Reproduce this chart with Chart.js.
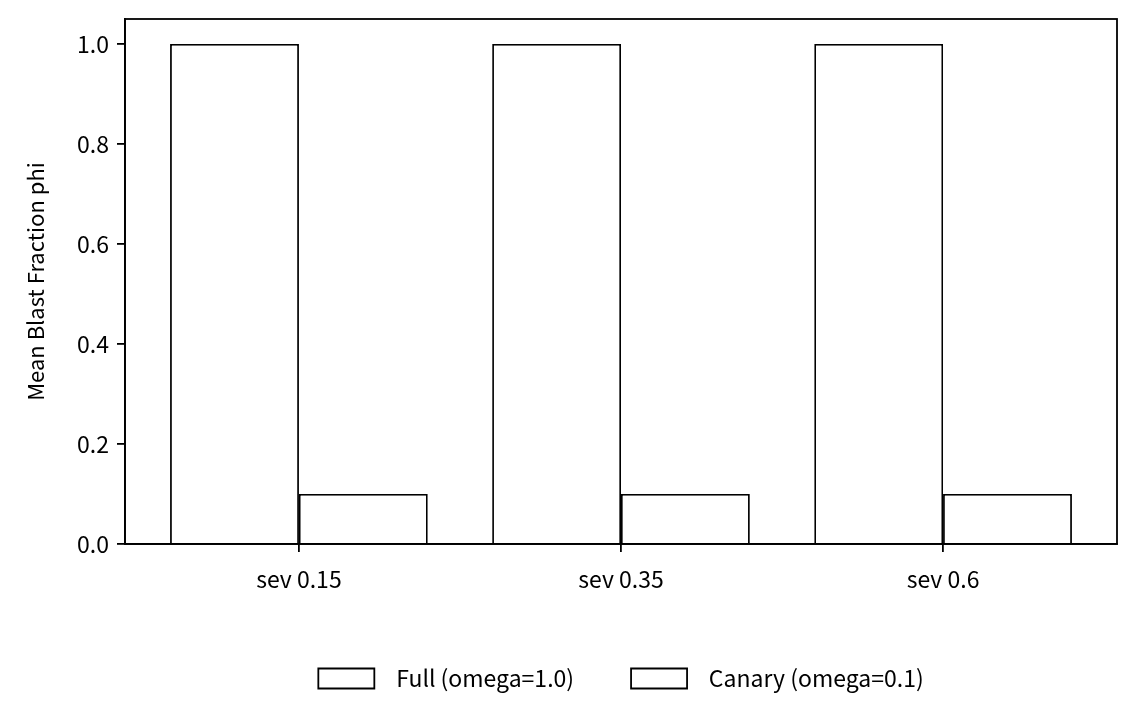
<!DOCTYPE html>
<html>
<head>
<meta charset="utf-8">
<script src="https://cdn.jsdelivr.net/npm/chart.js@4.4.1/dist/chart.umd.min.js"></script>
<style>
  html, body { margin: 0; padding: 0; background: #fff; }
  #wrap { width: 1137px; height: 727px; }
</style>
</head>
<body>
<div id="wrap"><canvas id="chart" width="1137" height="727"></canvas></div>
<script>
// chart data
const categories = ['sev 0.15', 'sev 0.35', 'sev 0.6'];
const fullValues = [1.0, 1.0, 1.0];
const canaryValues = [0.1, 0.1, 0.1];
const seriesNames = ['Full (omega=1.0)', 'Canary (omega=0.1)'];
const yTicks = [0, 0.2, 0.4, 0.6, 0.8, 1.0];

const fontFamily = '"Noto Sans CJK KR", "Noto Sans", sans-serif';

// draw the frame around the plot area
const frame = {
    id: 'frame',
    afterDatasetsDraw(chart) {
        const a = chart.chartArea;
        const ctx = chart.ctx;
        ctx.save();
        ctx.strokeStyle = '#000';
        ctx.lineWidth = 1.8;
        ctx.strokeRect(a.left, a.top, a.right - a.left, a.bottom - a.top);
        ctx.restore();
    }
};

function toPoints(values) {
    return values.map((v, i) => ({ x: i, y: v }));
}

new Chart(document.getElementById('chart'), {
    type: 'bar',
    data: {
        datasets: [
            {
                label: seriesNames[0],
                data: toPoints(fullValues),
                backgroundColor: '#fff',
                borderColor: '#000',
                borderWidth: 1.8
            },
            {
                label: seriesNames[1],
                data: toPoints(canaryValues),
                backgroundColor: '#fff',
                borderColor: '#000',
                borderWidth: 1.8
            }
        ]
    },
    options: {
        responsive: false,
        animation: false,
        devicePixelRatio: 1,
        categoryPercentage: 0.8,
        barPercentage: 1.0,
        layout: { padding: { top: 19, right: 20, left: 0, bottom: 27 } },
        plugins: {
            tooltip: { enabled: false },
            legend: {
                position: 'bottom',
                fullSize: false,
                labels: {
                    boxWidth: 56,
                    boxHeight: 20,
                    padding: 57,
                    color: '#000',
                    font: { family: fontFamily, size: 23 },
                    generateLabels: (chart) => chart.data.datasets.map((ds, i) => ({
                        text: '  ' + ds.label,
                        fillStyle: '#fff',
                        strokeStyle: '#000',
                        lineWidth: 1.8,
                        fontColor: '#000',
                        datasetIndex: i,
                        hidden: false
                    }))
                }
            }
        },
        scales: {
            x: {
                type: 'linear',
                min: -0.54,
                max: 2.54,
                offset: false,
                afterBuildTicks: (scale) => {
                    scale.ticks = categories.map((c, i) => ({ value: i }));
                },
                afterFit: (scale) => { scale.height = 66; },
                ticks: {
                    color: '#000',
                    font: { family: fontFamily, size: 23 },
                    padding: 13,
                    maxRotation: 0,
                    callback: (v) => categories[v]
                },
                grid: { display: true, offset: false, drawOnChartArea: false, drawTicks: true, tickLength: 8, color: '#000', lineWidth: 1.8 },
                border: { display: true, color: '#000', width: 1.8 }
            },
            y: {
                min: 0,
                max: 1.05,
                afterBuildTicks: (scale) => {
                    scale.ticks = yTicks.map(v => ({ value: v }));
                },
                afterFit: (scale) => {
                    scale.width = 125;
                    scale.paddingTop = 0;
                    scale.paddingBottom = 0;
                },
                ticks: {
                    color: '#000',
                    font: { family: fontFamily, size: 23 },
                    padding: 8,
                    callback: (v) => v.toFixed(1)
                },
                title: {
                    display: true,
                    text: 'Mean Blast Fraction phi',
                    color: '#000',
                    font: { family: fontFamily, size: 22 },
                    padding: { top: 22, bottom: 10 }
                },
                grid: { display: true, drawOnChartArea: false, drawTicks: true, tickLength: 8, color: '#000', lineWidth: 1.8 },
                border: { display: true, color: '#000', width: 1.8 }
            }
        }
    },
    plugins: [frame]
});
</script>
</body>
</html>
